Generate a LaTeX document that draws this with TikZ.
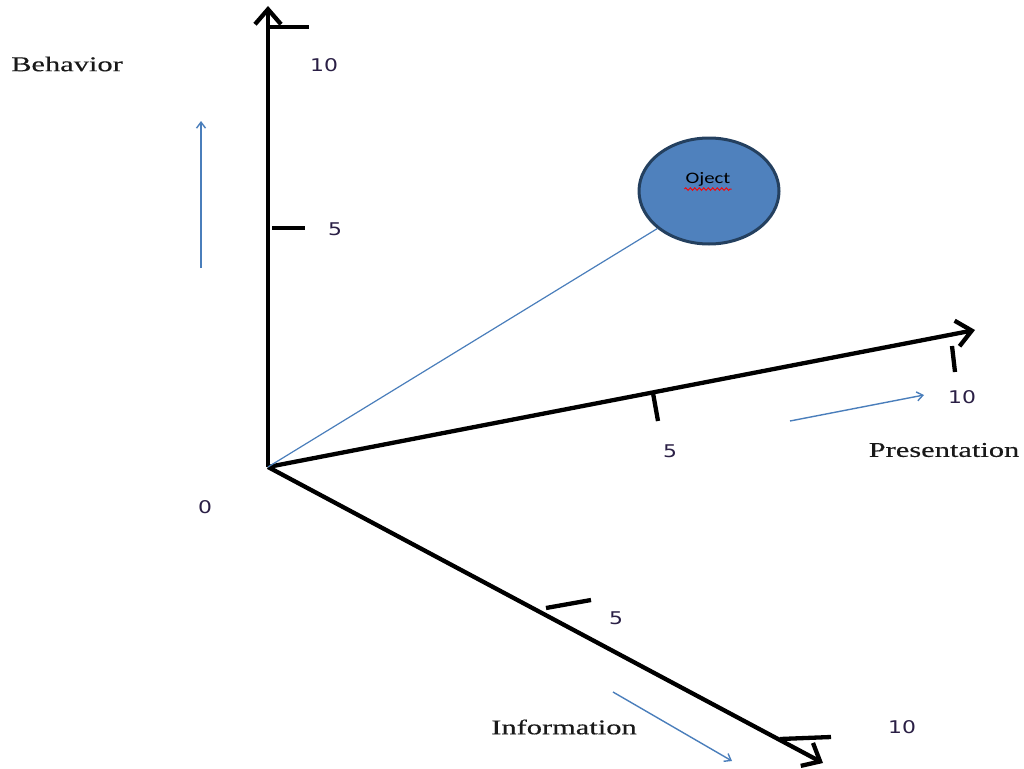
\documentclass[tikz,border=0pt]{standalone}
\usepackage{fontspec}
\usetikzlibrary{arrows.meta,positioning,shapes.geometric,decorations.pathmorphing}
\newfontfamily\labfont[FakeStretch=1.45,FakeBold=0.4]{Liberation Serif}
\newfontfamily\numfont[FakeStretch=1.25]{DejaVu Sans}
\newfontfamily\objfont[FakeStretch=1.3]{Carlito}
\definecolor{cueblue}{HTML}{4A7EBB}
\definecolor{objfill}{HTML}{4F81BD}
\definecolor{objline}{HTML}{24405F}
\definecolor{numink}{HTML}{2A1F45}

\begin{document}
\begin{tikzpicture}[x=1pt, y=-1pt,
  axis/.style={line width=4.3pt, -{Straight Barb[length=15pt,width=26pt]}},
  tickmark/.style={line width=4.3pt},
  cue/.style={cueblue, line width=1.4pt, -{Straight Barb[length=6pt,width=9pt]}},
  numlabel/.style={text=numink, font=\numfont\fontsize{17.5}{17.5}\selectfont},
  axlabel/.style={text=black!90, font=\labfont\fontsize{21}{21}\selectfont}]
\useasboundingbox (0,0) rectangle (1024,768);

% axes
\coordinate (O) at (268,467);
\coordinate (btip) at (268,6);
\coordinate (ptip) at (975,330);
\coordinate (itip) at (823,763);
\draw[axis] (O) -- (btip);
\draw[axis] (O) -- (ptip);
\draw[axis] (O) -- (itip);

% ticks
\coordinate (b10a) at (268,27);  \coordinate (b10b) at (309,27);
\coordinate (b5a) at (272,228);  \coordinate (b5b) at (305,228);
\coordinate (p5a) at (653,393);  \coordinate (p5b) at (658,421);
\coordinate (p10a) at (952,346); \coordinate (p10b) at (955,372);
\coordinate (i5a) at (546,608);  \coordinate (i5b) at (591,600);
\coordinate (i10a) at (780,739); \coordinate (i10b) at (831,737);
\foreach \t in {b10,b5,p5,p10,i5,i10}
  \draw[tickmark] (\t a) -- (\t b);

\node[numlabel] (nb10) at (324,65) {10};
\node[numlabel] (nb5) at (335,229) {5};
\node[numlabel] (np5) at (670,451) {5};
\node[numlabel] (np10) at (962,397) {10};
\node[numlabel] (ni5) at (616,618) {5};
\node[numlabel] (ni10) at (902,727) {10};
\node[numlabel] (zero) at (205,507) {0};

\node[axlabel] (behav) at (67,64) {Behavior};
\node[axlabel] (pres) at (944,450) {Presentation};
\node[axlabel] (info) at (564,727) {Information};

% direction cues
\coordinate (bc0) at (201,268); \coordinate (bc1) at (201,121);
\coordinate (pc0) at (790,421); \coordinate (pc1) at (924,395);
\coordinate (ic0) at (613,692); \coordinate (ic1) at (732,761);
\draw[cue] (bc0) -- (bc1);
\draw[cue] (pc0) -- (pc1);
\draw[cue] (ic0) -- (ic1);

% object
\node[ellipse, fill=objfill, draw=objline, line width=3pt,
      minimum width=140pt, minimum height=106pt] (obj) at (709,191) {};
\node[inner sep=1pt, font=\objfont\fontsize{16}{16}\selectfont] (objtxt) at (708,179) {Oject};
\draw[red, line width=0.9pt, decorate,
      decoration={snake, amplitude=1.3pt, segment length=4.5pt}]
  ([yshift=-2pt]objtxt.south west) -- ([yshift=-2pt]objtxt.south east);
\draw[cueblue, line width=1.2pt] (O) -- (obj.216);
\end{tikzpicture}
\end{document}
